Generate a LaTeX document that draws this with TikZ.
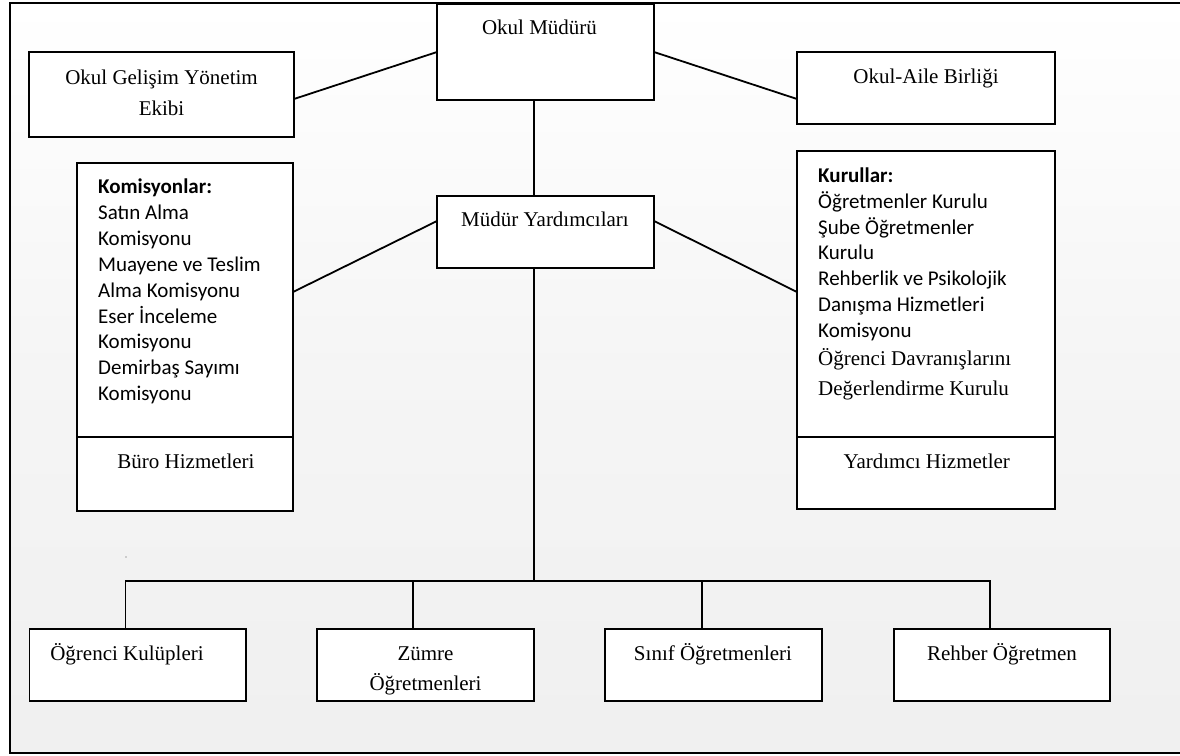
\documentclass[tikz,border=0pt]{standalone}
\usepackage{fontspec}
\setmainfont{Liberation Serif}
\newfontfamily\calfont{Carlito}
\begin{document}
\begin{tikzpicture}[x=1pt,y=-1pt,
 box/.style={draw, line width=1.8pt, fill=white, inner sep=0pt, outer sep=0pt, anchor=north west},
 conn/.style={line width=1.8pt},
 tt/.style={font=\fontsize{21}{26}\selectfont, inner sep=0pt, anchor=base},
 ct/.style={font=\calfont\fontsize{21}{26}\selectfont, inner sep=0pt, anchor=base west}]
\useasboundingbox (0,0) rectangle (1180,755);
\fill[white] (0,0) rectangle (1180,755);
\shade[top color=white, bottom color=gray!12, middle color=gray!8] (10,3) rectangle (1180,753);
\draw[line width=2.5pt] (1190,3) -- (10,3) -- (10,753) -- (1190,753);

% boxes
\node[box, minimum width=265pt, minimum height=85pt] (gel) at (29,52) {};
\node[box, minimum width=217pt, minimum height=96pt] (mud) at (437,4) {};
\node[box, minimum width=258pt, minimum height=72pt] (aile) at (797,52) {};
\node[box, minimum width=217pt, minimum height=72pt] (my) at (437,196) {};
\node[box, minimum width=216pt, minimum height=274pt] (kom) at (77,163) {};
\node[box, minimum width=216pt, minimum height=74pt] (buro) at (77,437) {};
\node[box, minimum width=258pt, minimum height=286pt] (kur) at (797,151) {};
\node[box, minimum width=258pt, minimum height=72pt] (yard) at (797,437) {};
\node[box, minimum width=216.5pt, minimum height=72pt] (ok) at (29.5,629) {};
\node[box, minimum width=217pt, minimum height=72pt] (zum) at (317,629) {};
\node[box, minimum width=217pt, minimum height=72pt] (sin) at (605,629) {};
\node[box, minimum width=216pt, minimum height=72pt] (reh) at (894,629) {};

% connectors
\draw[conn] ([yshift=-4.5pt]gel.east) -- (mud.west);
\draw[conn] (mud.east) -- ([yshift=25pt]aile.south west);
\draw[conn] ([xshift=-11.5pt]mud.south) -- ([xshift=-11.5pt]my.north);
\draw[conn] ([yshift=11pt]my.west) -- ([yshift=8pt]kom.east);
\draw[conn] ([yshift=11pt]my.east) -- ([yshift=2pt]kur.west);
\coordinate (bus) at (534,581);
\coordinate (okd) at ([xshift=-12.25pt]ok.north);
\coordinate (zumd) at ([xshift=-12.5pt]zum.north);
\coordinate (sind) at ([xshift=-11.5pt]sin.north);
\coordinate (rehd) at ([xshift=-12pt]reh.north);
\draw[conn] ([xshift=-11.5pt]my.south) -- (bus);
\draw[conn] (okd) |- (rehd |- bus) -- (rehd);
\draw[conn] (zumd) -- (zumd |- bus);
\draw[conn] (sind) -- (sind |- bus);
\fill[gray!70] (126,557) circle (0.8);

% texts
\node[tt] (gelt1) at (161.5,84.5) {Okul Gelişim Yönetim};
\node[tt] (gelt2) at (161.5,115) {Ekibi};
\node[tt] (mudt) at (539.5,34.5) {Okul Müdürü};
\node[tt] (ailet) at (926,83) {Okul-Aile Birliği};
\node[tt] (myt) at (545,226.5) {Müdür Yardımcıları};
\node[tt] (burot) at (186,468.3) {Büro Hizmetleri};
\node[tt] (yardt) at (926.7,468.3) {Yardımcı Hizmetler};
\node[tt] (okt) at (127,660) {Öğrenci Kulüpleri};
\node[tt] (zumt1) at (425.5,660) {Zümre};
\node[tt] (zumt2) at (425.5,690) {Öğretmenleri};
\node[tt] (sint) at (713,660) {Sınıf Öğretmenleri};
\node[tt] (reht) at (1002,660) {Rehber Öğretmen};

\foreach [count=\i from 0] \t in {{\bfseries Komisyonlar:}, Satın Alma, Komisyonu, Muayene ve Teslim, Alma Komisyonu, Eser İnceleme, Komisyonu, Demirbaş Sayımı, Komisyonu}
  \node[ct] (kl\i) at ({98},{193.5+25.9*\i}) {\t};
\foreach [count=\i from 0] \t in {{\bfseries Kurullar:}, Öğretmenler Kurulu, Şube Öğretmenler, Kurulu, Rehberlik ve Psikolojik, Danışma Hizmetleri, Komisyonu}
  \node[ct] (ul\i) at ({818},{182.5+25.8*\i}) {\t};
\node[tt, anchor=base west] (ul7) at (818,365.5) {Öğrenci Davranışlarını};
\node[tt, anchor=base west] (ul8) at (818,395.7) {Değerlendirme Kurulu};
\end{tikzpicture}
\end{document}
